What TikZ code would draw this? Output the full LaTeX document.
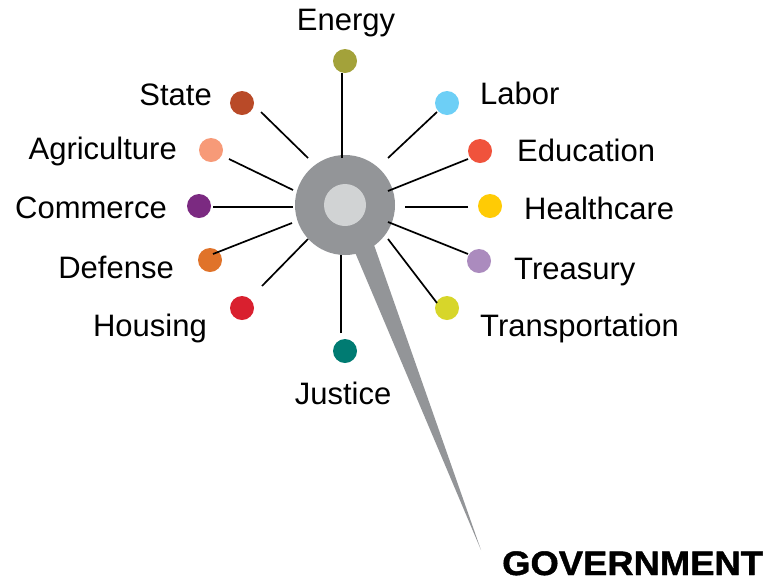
\documentclass[tikz,border=0pt]{standalone}
\usepackage{fontspec}
\setmainfont{Liberation Sans}
\newfontface\govfont{Liberation Sans Bold}[FakeBold=1.2]
\definecolor{cEnergy}{HTML}{A3A23A}
\definecolor{cState}{HTML}{B94A28}
\definecolor{cAgri}{HTML}{F79A78}
\definecolor{cComm}{HTML}{7B2A81}
\definecolor{cDef}{HTML}{E0732A}
\definecolor{cHous}{HTML}{D9202F}
\definecolor{cLabor}{HTML}{6DCFF6}
\definecolor{cEdu}{HTML}{F0533C}
\definecolor{cHealth}{HTML}{FFCB05}
\definecolor{cTreas}{HTML}{AB8BBE}
\definecolor{cTrans}{HTML}{D7D62A}
\definecolor{cJust}{HTML}{007B72}
\definecolor{hubgray}{HTML}{939598}
\definecolor{hublight}{HTML}{D1D3D4}
\tikzset{
  dot/.style={circle, minimum size=24pt, inner sep=0pt, draw=none},
  spoke/.style={line width=1.7pt, black},
  lbl/.style={inner sep=0pt, font=\fontsize{31}{36}\selectfont},
}
\begin{document}
\begin{tikzpicture}[x=1pt, y=-1pt]
\useasboundingbox (0,0) rectangle (767,582);
% tail and hub
\fill[hubgray] (335,205) -- (360,205) -- (481,550) -- cycle;
\node[circle, fill=hubgray, minimum size=100pt, inner sep=0pt] (hub) at (345,205) {};
\node[circle, fill=hublight, minimum size=42pt, inner sep=0pt] (core) at (hub.center) {};
% dots
\node[dot, fill=cEnergy] (energy) at (345,61) {};
\node[dot, fill=cState] (state) at (242,103) {};
\node[dot, fill=cAgri] (agri) at (211,150) {};
\node[dot, fill=cComm] (comm) at (199,206) {};
\node[dot, fill=cDef] (def) at (210,260) {};
\node[dot, fill=cHous] (hous) at (242,308) {};
\node[dot, fill=cJust] (just) at (345,351) {};
\node[dot, fill=cLabor] (labor) at (447,103) {};
\node[dot, fill=cEdu] (edu) at (480,151) {};
\node[dot, fill=cHealth] (health) at (490,206) {};
\node[dot, fill=cTreas] (treas) at (479,261) {};
\node[dot, fill=cTrans] (trans) at (447,308) {};
% spoke ends
\coordinate (eA) at (342,73);  \coordinate (eB) at (342,158);
\coordinate (sA) at (261,112); \coordinate (sB) at (308,158);
\coordinate (aA) at (229,159); \coordinate (aB) at (293,190);
\coordinate (cA) at (213,207); \coordinate (cB) at (293,207);
\coordinate (dA) at (213,254); \coordinate (dB) at (292,223);
\coordinate (hA) at (262,286); \coordinate (hB) at (308,239);
\coordinate (jA) at (341,333); \coordinate (jB) at (341,255);
\coordinate (lA) at (437,112); \coordinate (lB) at (388,158);
\coordinate (edA) at (468,159); \coordinate (edB) at (388,191);
\coordinate (heA) at (468,207); \coordinate (heB) at (405,207);
\coordinate (tA) at (468,254); \coordinate (tB) at (388,222);
\coordinate (trA) at (437,303); \coordinate (trB) at (388,239);
\draw[spoke] (eA) -- (eB);
\draw[spoke] (sA) -- (sB);
\draw[spoke] (aA) -- (aB);
\draw[spoke] (cA) -- (cB);
\draw[spoke] (dA) -- (dB);
\draw[spoke] (hA) -- (hB);
\draw[spoke] (jA) -- (jB);
\draw[spoke] (lA) -- (lB);
\draw[spoke] (edA) -- (edB);
\draw[spoke] (heA) -- (heB);
\draw[spoke] (tA) -- (tB);
\draw[spoke] (trA) -- (trB);
% labels
\node[lbl, anchor=base] (tEnergy) at (346,30) {Energy};
\node[lbl, anchor=base east] (tState) at (212,105) {State};
\node[lbl, anchor=base east] (tAgri) at (177,159) {Agriculture};
\node[lbl, anchor=base east] (tComm) at (167,218) {Commerce};
\node[lbl, anchor=base east] (tDef) at (174,278) {Defense};
\node[lbl, anchor=base east] (tHous) at (207,336) {Housing};
\node[lbl, anchor=base] (tJust) at (343,404) {Justice};
\node[lbl, anchor=base west] (tLabor) at (480,104) {Labor};
\node[lbl, anchor=base west] (tEdu) at (517,161) {Education};
\node[lbl, anchor=base west] (tHealth) at (524,219) {Healthcare};
\node[lbl, anchor=base west] (tTreas) at (514,279) {Treasury};
\node[lbl, anchor=base west] (tTrans) at (480,336) {Transportation};
\node[inner sep=0pt, anchor=base west, xscale=1.07, font=\fontsize{34}{38}\govfont] (tGov) at (502,575) {GOVERNMENT};
\end{tikzpicture}
\end{document}
